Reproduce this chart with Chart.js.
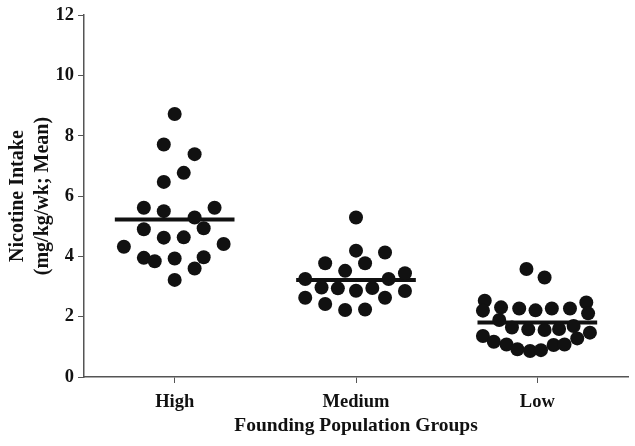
<!DOCTYPE html>
<html>
<head>
<meta charset="utf-8">
<script src="https://cdn.jsdelivr.net/npm/chart.js@4"></script>
<style>
  html, body { margin: 0; padding: 0; background: #fff; }
  #wrap { width: 635px; height: 446px; }
</style>
</head>
<body>
<div id="wrap"><canvas id="nicotineChart" width="635" height="446"></canvas></div>
<script>
// groups along the x axis
var groups = ['High', 'Medium', 'Low'];
var yTicks = [0, 2, 4, 6, 8, 10, 12];

// individual intakes (mg/kg/wk)
var highValues = [8.72, 7.71, 7.39, 6.77, 6.47, 5.61, 5.50, 5.61, 5.29, 4.90, 4.93,
    4.62, 4.63, 4.32, 4.41, 3.95, 3.84, 3.93, 3.97, 3.60, 3.22];
var highJitter = [0, -0.06, 0.11, 0.05, -0.06, -0.17, -0.06, 0.22, 0.11, -0.17, 0.16,
    -0.06, 0.05, -0.28, 0.27, -0.17, -0.11, 0, 0.16, 0.11, 0];

var mediumValues = [5.29, 4.19, 4.13, 3.77, 3.77, 3.52, 3.25, 3.25, 3.44, 2.97, 2.94,
    2.86, 2.95, 2.85, 2.63, 2.63, 2.42, 2.22, 2.24];
var mediumJitter = [0, 0, 0.16, -0.17, 0.05, -0.06, -0.28, 0.18, 0.27, -0.19, -0.10,
    0, 0.09, 0.27, -0.28, 0.16, -0.17, -0.06, 0.05];

var lowValues = [3.58, 3.30, 2.53, 2.20, 2.31, 2.27, 2.21, 2.27, 2.27, 2.47, 2.11,
    1.89, 1.64, 1.58, 1.56, 1.59, 1.69, 1.47, 1.36, 1.17, 1.08, 0.92, 0.86, 0.89,
    1.06, 1.08, 1.28];
var lowJitter = [-0.06, 0.04, -0.29, -0.30, -0.20, -0.10, -0.01, 0.08, 0.18, 0.27, 0.28,
    -0.21, -0.14, -0.05, 0.04, 0.12, 0.20, 0.29, -0.30, -0.24, -0.17, -0.11, -0.04, 0.02,
    0.09, 0.15, 0.22];

// group means (horizontal bars)
var groupMeans = [5.22, 3.22, 1.81];

var allValues = [highValues, mediumValues, lowValues];
var allJitter = [highJitter, mediumJitter, lowJitter];

var FONT = "'Liberation Serif', 'Times New Roman', serif";

var datasets = [];
groups.forEach(function (g, i) {
    var center = i + 0.5;
    datasets.push({
        type: 'scatter',
        label: g,
        data: allValues[i].map(function (v, k) {
            return { x: center + allJitter[i][k], y: v };
        }),
        backgroundColor: '#111',
        borderColor: '#111',
        pointRadius: 7,
        pointHoverRadius: 7,
        borderWidth: 0
    });
    datasets.push({
        type: 'line',
        label: g + ' mean',
        data: [{ x: center - 0.33, y: groupMeans[i] }, { x: center + 0.33, y: groupMeans[i] }],
        borderColor: '#111',
        borderWidth: 4,
        pointRadius: 0,
        fill: false
    });
});

var ctx = document.getElementById('nicotineChart');

var myChart = new Chart(ctx, {
    type: 'scatter',
    data: { datasets: datasets },
    options: {
        responsive: false,
        animation: false,
        layout: { padding: { top: 15, right: 7, left: 5, bottom: 0 } },
        plugins: {
            legend: { display: false },
            tooltip: { enabled: false }
        },
        scales: {
            x: {
                type: 'linear',
                min: 0,
                max: 3,
                afterBuildTicks: function (scale) {
                    scale.ticks = groups.map(function (g, i) { return { value: i + 0.5 }; });
                },
                afterFit: function (scale) { scale.height = 69; },
                grid: { drawOnChartArea: false, drawTicks: true, tickLength: 6, color: '#555' },
                border: { color: '#555', width: 1.5 },
                ticks: {
                    color: '#111',
                    padding: 8,
                    font: { family: FONT, size: 18.5, weight: 'bold' },
                    callback: function (v) {
                        var i = Math.round(v - 0.5);
                        return groups[i];
                    }
                },
                title: {
                    display: true,
                    text: 'Founding Population Groups',
                    color: '#111',
                    padding: { top: 2, bottom: 8 },
                    font: { family: FONT, size: 19.5, weight: 'bold' }
                }
            },
            y: {
                min: 0,
                max: 12,
                afterBuildTicks: function (scale) {
                    scale.ticks = yTicks.map(function (v) { return { value: v }; });
                },
                afterFit: function (scale) { scale.width = 79; },
                grid: { drawOnChartArea: false, drawTicks: true, tickLength: 6, color: '#555' },
                border: { color: '#555', width: 1.5 },
                ticks: {
                    color: '#111',
                    padding: 4,
                    font: { family: FONT, size: 18.5, weight: 'bold' }
                },
                title: {
                    display: true,
                    text: ['Nicotine Intake', '(mg/kg/wk; Mean)'],
                    color: '#111',
                    padding: { top: 0, bottom: 2 },
                    font: { family: FONT, size: 20, weight: 'bold', lineHeight: 1.25 }
                }
            }
        }
    }
});
</script>
</body>
</html>
